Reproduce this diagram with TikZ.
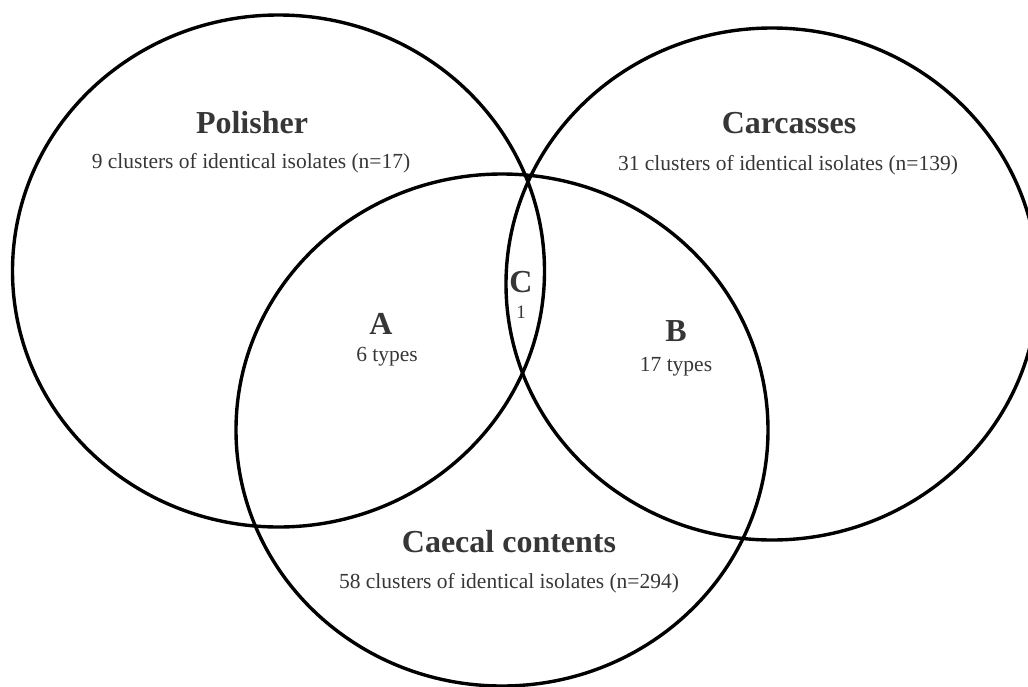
\documentclass[tikz,border=0pt]{standalone}
\usepackage{fontspec}
\setmainfont{Liberation Serif}
\definecolor{labelgray}{HTML}{363636}
\begin{document}
\begin{tikzpicture}[
    x=1pt, y=-1pt,
    setline/.style={line width=3.4pt, draw=black},
    settitle/.style={font=\fontsize{32}{36}\selectfont\bfseries, text=labelgray, anchor=base, inner sep=0pt},
    setinfo/.style={font=\fontsize{21.5}{24}\selectfont, text=labelgray, anchor=base, inner sep=0pt},
    smallinfo/.style={font=\fontsize{19}{22}\selectfont, text=labelgray, anchor=base, inner sep=0pt}
  ]
  \useasboundingbox (0,0) rectangle (1028,686);
  \clip (0,0) rectangle (1028,686);

  % centres of the three sets
  \coordinate (polisherC) at (278.5,271);
  \coordinate (carcassC)  at (772,284);
  \coordinate (caecalC)   at (502,430);

  % the three sets
  \draw[setline] (polisherC) ellipse [x radius=266, y radius=256];
  \draw[setline] (carcassC)  ellipse [x radius=266, y radius=256];
  \draw[setline] (caecalC)   ellipse [x radius=266, y radius=256];

  % set titles and counts
  \node[settitle] (polisherT) at (252,133) {Polisher};
  \node[setinfo]  (polisherN) at (251,168) {9 clusters of identical isolates (n=17)};

  \node[settitle] (carcassT) at (789,133) {Carcasses};
  \node[setinfo]  (carcassN) at (788,170) {31 clusters of identical isolates (n=139)};

  \node[settitle] (caecalT) at (509,552) {Caecal contents};
  \node[setinfo]  (caecalN) at (509,588) {58 clusters of identical isolates (n=294)};

  % overlaps
  \node[settitle] (ovA)  at (381,334) {A};
  \node[setinfo]  (ovAn) at (387,361) {6 types};

  \node[settitle] (ovB)  at (676,341) {B};
  \node[setinfo]  (ovBn) at (676,371) {17 types};

  \node[settitle] (ovC)  at (521,292) {C};
  \node[smallinfo] (ovCn) at (521,318) {1};
\end{tikzpicture}
\end{document}
